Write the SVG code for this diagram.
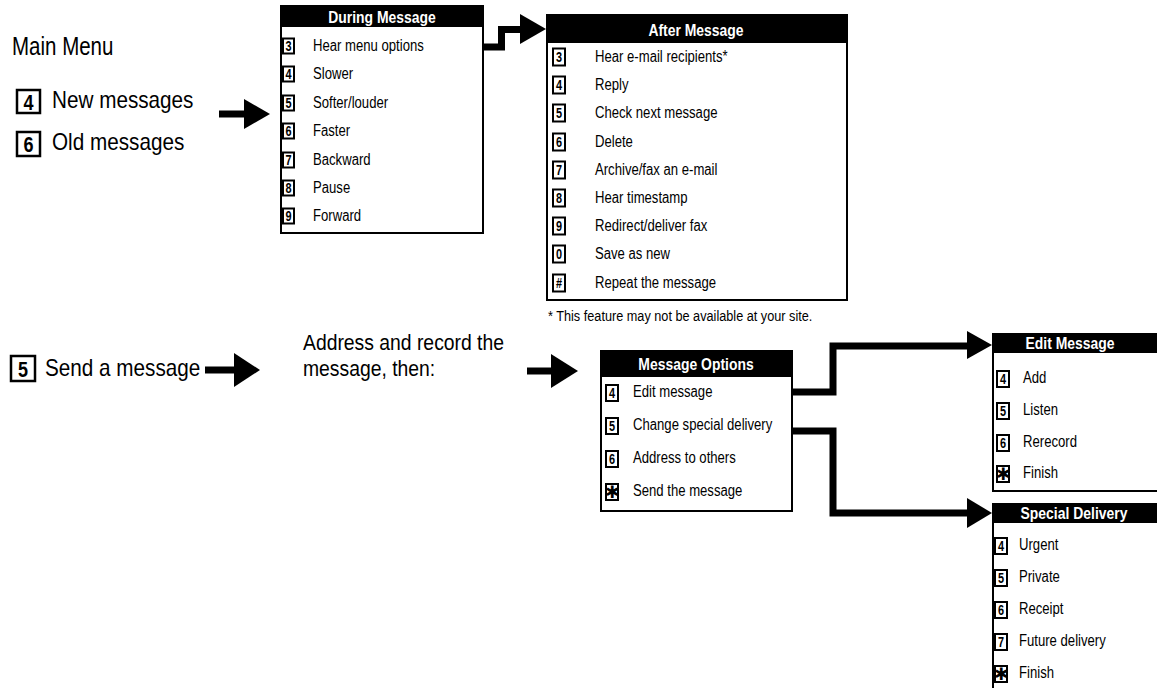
<svg xmlns="http://www.w3.org/2000/svg" width="1157" height="688" viewBox="0 0 1157 688">
<style>
.bg{fill:#fff}
.box{fill:#fff;stroke:#000;stroke-width:2}
.hdr{fill:#000}
.ht{font-family:'Liberation Sans',Arial,sans-serif;font-weight:bold;font-size:17px;fill:#fff;text-anchor:middle}
.key{fill:#fff;stroke:#000;stroke-width:2}
.kt{font-family:'Liberation Sans',Arial,sans-serif;font-weight:bold;font-size:14px;text-anchor:middle;fill:#000}
.star{font-family:'DejaVu Sans',sans-serif;font-weight:bold;font-size:17px;text-anchor:middle;fill:#000}
.it{font-family:'Liberation Sans',Arial,sans-serif;font-size:16px;fill:#000}
.mt{font-family:'Liberation Sans',Arial,sans-serif;font-size:23px;fill:#000}
.mk{fill:#fff;stroke:#000;stroke-width:2.5}
.mkt{font-family:'Liberation Sans',Arial,sans-serif;font-weight:bold;font-size:22px;text-anchor:middle;fill:#000}
.conn{fill:none;stroke:#000;stroke-width:7;stroke-linejoin:miter;stroke-linecap:butt}
.head{fill:#000}
</style>
<rect class="bg" x="0" y="0" width="1157" height="688"/>

<g id="main-menu">
<text transform="translate(12,55) scale(0.82,1)" style="font-family:'Liberation Sans',Arial,sans-serif;font-size:25px">Main Menu</text>
<rect class="mk" x="17" y="90" width="23" height="23"/><text class="mkt" transform="translate(28.5,109.5) scale(0.82,1)">4</text>
<text class="mt" transform="translate(52,107.5) scale(0.9,1)">New messages</text>
<rect class="mk" x="17" y="132" width="23" height="24"/><text class="mkt" transform="translate(28.5,152) scale(0.82,1)">6</text>
<text class="mt" transform="translate(52,149.5) scale(0.9,1)">Old messages</text>
</g>

<g id="send-message">
<rect class="mk" x="11" y="356" width="24" height="25"/><text class="mkt" transform="translate(23,376.5) scale(0.82,1)">5</text>
<text class="mt" transform="translate(45,376) scale(0.9,1)">Send a message</text>
</g>

<g id="address-record">
<text class="mt" transform="translate(303,350) scale(0.9,1)" style="font-size:21.5px">Address and record the</text>
<text class="mt" transform="translate(303,376) scale(0.9,1)" style="font-size:21.5px">message, then:</text>
</g>

<g id="during-message">
<rect class="box" x="281" y="6" width="202" height="227"/>
<rect class="hdr" x="280" y="5" width="204" height="22"/>
<text class="ht" transform="translate(382,22.5) scale(0.82,1)">During Message</text>
<rect class="key" x="283" y="38.5" width="11" height="15"/>
<rect class="key" x="283" y="66.5" width="11" height="15"/>
<rect class="key" x="283" y="95.5" width="11" height="15"/>
<rect class="key" x="283" y="123.5" width="11" height="15"/>
<rect class="key" x="283" y="152.5" width="11" height="15"/>
<rect class="key" x="283" y="180.5" width="11" height="15"/>
<rect class="key" x="283" y="208.5" width="11" height="15"/>
<g transform="translate(288.5,0) scale(0.78,1)">
<text class="kt" x="0" y="51">3</text><text class="kt" x="0" y="79">4</text><text class="kt" x="0" y="108">5</text><text class="kt" x="0" y="136">6</text><text class="kt" x="0" y="165">7</text><text class="kt" x="0" y="193">8</text><text class="kt" x="0" y="221">9</text>
</g>
<g transform="translate(313,0) scale(0.82,1)">
<text class="it" x="0" y="51.5">Hear menu options</text>
<text class="it" x="0" y="79.5">Slower</text>
<text class="it" x="0" y="108.5">Softer/louder</text>
<text class="it" x="0" y="136.5">Faster</text>
<text class="it" x="0" y="165.5">Backward</text>
<text class="it" x="0" y="193.5">Pause</text>
<text class="it" x="0" y="221.5">Forward</text>
</g>
</g>

<g id="after-message">
<rect class="box" x="547" y="15" width="300" height="285"/>
<rect class="hdr" x="546" y="14" width="302" height="29"/>
<text class="ht" transform="translate(696,36) scale(0.82,1)">After Message</text>
<rect class="key" x="553" y="48.5" width="12" height="17"/>
<rect class="key" x="553" y="76.5" width="12" height="17"/>
<rect class="key" x="553" y="104.5" width="12" height="17"/>
<rect class="key" x="553" y="133.5" width="12" height="17"/>
<rect class="key" x="553" y="161.5" width="12" height="17"/>
<rect class="key" x="553" y="189.5" width="12" height="17"/>
<rect class="key" x="553" y="217.5" width="12" height="17"/>
<rect class="key" x="553" y="245.5" width="12" height="17"/>
<rect class="key" x="553" y="274.5" width="12" height="17"/>
<g transform="translate(559,0) scale(0.78,1)">
<text class="kt" x="0" y="62">3</text><text class="kt" x="0" y="90">4</text><text class="kt" x="0" y="118">5</text><text class="kt" x="0" y="147">6</text><text class="kt" x="0" y="175">7</text><text class="kt" x="0" y="203">8</text><text class="kt" x="0" y="231">9</text><text class="kt" x="0" y="259">0</text><text class="kt" x="0" y="288">#</text>
</g>
<g transform="translate(595,0) scale(0.82,1)">
<text class="it" x="0" y="62">Hear e-mail recipients*</text>
<text class="it" x="0" y="90">Reply</text>
<text class="it" x="0" y="118">Check next message</text>
<text class="it" x="0" y="147">Delete</text>
<text class="it" x="0" y="175">Archive/fax an e-mail</text>
<text class="it" x="0" y="203">Hear timestamp</text>
<text class="it" x="0" y="231">Redirect/deliver fax</text>
<text class="it" x="0" y="259">Save as new</text>
<text class="it" x="0" y="288">Repeat the message</text>
</g>
</g>
<text id="footnote" transform="translate(548,321) scale(0.82,1)" style="font-family:'Liberation Sans',Arial,sans-serif;font-size:15.5px">* This feature may not be available at your site.</text>

<g id="message-options">
<rect class="box" x="601" y="351" width="191" height="160"/>
<rect class="hdr" x="600" y="350" width="193" height="27"/>
<text class="ht" transform="translate(696,370) scale(0.82,1)">Message Options</text>
<rect class="key" x="606" y="385" width="12" height="16"/>
<rect class="key" x="606" y="418" width="12" height="16"/>
<rect class="key" x="606" y="451" width="12" height="16"/>
<rect class="key" x="606" y="484" width="12" height="16"/>
<g transform="translate(612,0) scale(0.78,1)">
<text class="kt" x="0" y="398">4</text><text class="kt" x="0" y="431">5</text><text class="kt" x="0" y="464">6</text>
</g>
<text class="star" x="612" y="498">✱</text>
<g transform="translate(633,0) scale(0.82,1)">
<text class="it" x="0" y="397.5">Edit message</text>
<text class="it" x="0" y="430.5">Change special delivery</text>
<text class="it" x="0" y="463.5">Address to others</text>
<text class="it" x="0" y="496.5">Send the message</text>
</g>
</g>

<g id="edit-message">
<rect class="box" x="993" y="334" width="170" height="157"/>
<rect class="hdr" x="992" y="333" width="170" height="20"/>
<text class="ht" transform="translate(1070,349) scale(0.82,1)">Edit Message</text>
<rect class="key" x="997" y="371" width="12" height="16"/>
<rect class="key" x="997" y="403" width="12" height="16"/>
<rect class="key" x="997" y="435" width="12" height="16"/>
<rect class="key" x="997" y="466" width="12" height="16"/>
<g transform="translate(1003,0) scale(0.78,1)">
<text class="kt" x="0" y="384">4</text><text class="kt" x="0" y="416">5</text><text class="kt" x="0" y="448">6</text>
</g>
<text class="star" x="1003" y="480">✱</text>
<g transform="translate(1023,0) scale(0.82,1)">
<text class="it" x="0" y="383.5">Add</text>
<text class="it" x="0" y="415.5">Listen</text>
<text class="it" x="0" y="447.5">Rerecord</text>
<text class="it" x="0" y="478.5">Finish</text>
</g>
</g>

<g id="special-delivery">
<rect class="box" x="993" y="504" width="170" height="200"/>
<rect class="hdr" x="992" y="503" width="170" height="20"/>
<text class="ht" transform="translate(1074,519) scale(0.82,1)">Special Delivery</text>
<rect class="key" x="995" y="538" width="12" height="16"/>
<rect class="key" x="995" y="570" width="12" height="16"/>
<rect class="key" x="995" y="602" width="12" height="16"/>
<rect class="key" x="995" y="634" width="12" height="16"/>
<rect class="key" x="995" y="666" width="12" height="16"/>
<g transform="translate(1001,0) scale(0.78,1)">
<text class="kt" x="0" y="551">4</text><text class="kt" x="0" y="583">5</text><text class="kt" x="0" y="615">6</text><text class="kt" x="0" y="647">7</text>
</g>
<text class="star" x="1001" y="680">✱</text>
<g transform="translate(1019,0) scale(0.82,1)">
<text class="it" x="0" y="550.5">Urgent</text>
<text class="it" x="0" y="582.5">Private</text>
<text class="it" x="0" y="614.5">Receipt</text>
<text class="it" x="0" y="646.5">Future delivery</text>
<text class="it" x="0" y="678.5">Finish</text>
</g>
</g>

<g id="connectors">
<path class="conn" d="M219,114 H246"/>
<polygon class="head" points="244,99 270,114 244,129"/>
<path class="conn" d="M483,47 H501.5 V29.5 H521"/>
<polygon class="head" points="520,14 546,29 520,44"/>
<path class="conn" d="M205,370 H235"/>
<polygon class="head" points="234,353 260,370 234,387"/>
<path class="conn" d="M527,371 H552"/>
<polygon class="head" points="551,354 578,371 551,388"/>
<path class="conn" d="M792,392 H833 V346 H968"/>
<polygon class="head" points="967,331 992,345 967,359"/>
<path class="conn" d="M792,431 H833 V513 H968"/>
<polygon class="head" points="967,498 992,513 967,528"/>
</g>
</svg>
